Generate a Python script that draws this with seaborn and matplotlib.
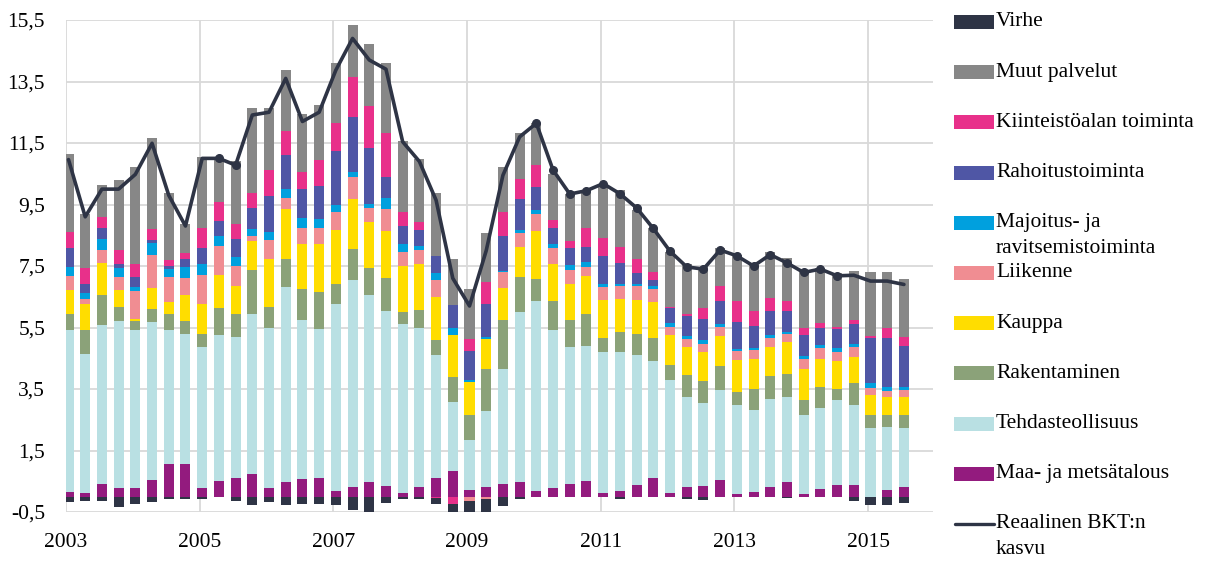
import numpy as np
import seaborn as sns
import matplotlib.pyplot as plt
from matplotlib.patches import Rectangle
from matplotlib.lines import Line2D
from matplotlib.ticker import FuncFormatter

# quarterly contributions, 2003Q1 - 2015Q3
maa = [0.15, 0.13, 0.42, 0.28, 0.28, 0.53, 1.07, 1.07, 0.28, 0.51, 0.62, 0.75, 0.28,
       0.48, 0.56, 0.61, 0.17, 0.31, 0.48, 0.35, 0.13, 0.31, 0.61, 0.82, 0.20, 0.31,
       0.42, 0.48, 0.17, 0.28, 0.42, 0.51, 0.13, 0.17, 0.37, 0.59, 0.13, 0.31, 0.35,
       0.53, 0.10, 0.15, 0.31, 0.46, 0.10, 0.24, 0.37, 0.37, 0.00, 0.21, 0.31]
tehdas = [5.26, 4.52, 5.15, 5.44, 5.13, 5.15, 4.34, 4.21, 4.57, 4.74, 4.58, 5.18, 5.19,
          6.34, 5.18, 4.83, 6.11, 6.73, 6.07, 5.68, 5.47, 5.19, 4.01, 2.26, 1.63, 2.47,
          3.74, 5.53, 6.20, 5.13, 4.43, 4.39, 4.56, 4.52, 4.23, 3.81, 3.66, 2.93, 2.71,
          2.93, 2.87, 2.66, 2.88, 2.78, 2.57, 2.65, 2.76, 2.60, 2.23, 2.06, 1.92]
rakentaminen = [0.52, 0.76, 0.98, 0.45, 0.29, 0.42, 0.52, 0.42, 0.43, 0.89, 0.73, 1.43,
                0.70, 0.92, 1.01, 1.22, 0.65, 1.01, 0.87, 1.08, 0.41, 0.56, 0.47, 0.81,
                0.84, 1.38, 1.58, 1.14, 0.72, 0.95, 0.89, 1.05, 0.48, 0.67, 0.70, 0.76,
                0.48, 0.71, 0.69, 0.79, 0.44, 0.68, 0.74, 0.76, 0.46, 0.68, 0.36, 0.71,
                0.42, 0.40, 0.44]
kauppa = [0.78, 0.87, 1.06, 0.54, 0.09, 0.67, 0.40, 0.85, 1.00, 1.06, 0.92, 0.95, 1.57,
          1.61, 1.47, 1.57, 1.74, 1.62, 1.50, 1.52, 1.49, 1.52, 1.41, 1.36, 1.06, 0.96,
          1.03, 0.97, 1.54, 1.22, 1.19, 1.23, 1.22, 1.08, 1.09, 1.17, 1.00, 0.92, 0.96,
          0.98, 1.03, 1.00, 0.94, 1.03, 1.03, 0.92, 0.91, 0.86, 0.65, 0.57, 0.57]
liikenne = [0.47, 0.14, 0.41, 0.44, 0.89, 1.10, 0.82, 0.56, 0.92, 0.96, 0.65, 0.17, 0.60,
            0.37, 0.50, 0.49, 0.59, 0.73, 0.47, 0.72, 0.46, 0.44, 0.54, 0.00, -0.15, -0.07,
            0.52, 0.44, 0.56, 0.51, 0.43, 0.29, 0.43, 0.41, 0.46, 0.42, 0.25, 0.27, 0.24,
            0.29, 0.29, 0.27, 0.29, 0.27, 0.33, 0.35, 0.31, 0.33, 0.24, 0.19, 0.22]
majoitus = [0.29, 0.19, 0.37, 0.27, 0.14, 0.39, 0.25, 0.36, 0.38, 0.32, 0.28, 0.22, 0.27,
            0.28, 0.33, 0.30, 0.22, 0.16, 0.11, 0.35, 0.25, 0.14, 0.22, 0.22, 0.05, 0.08,
            0.04, 0.11, 0.13, 0.14, 0.17, 0.17, 0.11, 0.08, 0.08, 0.10, 0.14, 0.09, 0.14,
            0.11, 0.06, 0.08, 0.09, 0.06, 0.09, 0.08, 0.11, 0.08, 0.14, 0.14, 0.11]
rahoitus = [0.62, 0.32, 0.33, 0.16, 0.33, 0.08, 0.10, 0.27, 0.49, 0.48, 0.59, 0.67, 1.17,
            1.11, 0.95, 1.09, 1.76, 1.79, 1.84, 0.70, 0.60, 0.51, 0.57, 0.76, 0.95, 1.08,
            1.15, 1.00, 0.76, 0.51, 0.54, 0.48, 0.90, 0.68, 0.33, 0.19, 0.48, 0.64, 0.68,
            0.73, 0.89, 0.71, 0.78, 0.67, 0.69, 0.57, 0.62, 0.68, 1.48, 1.59, 1.33]
kiinteisto = [0.52, 0.51, 0.38, 0.44, 0.40, 0.36, 0.19, 0.19, 0.65, 0.63, 0.51, 0.52, 0.84,
              0.78, 0.56, 0.83, 0.90, 1.31, 1.37, 1.41, 0.45, 0.27, -0.06, -0.23, 0.41, 0.70,
              0.78, 0.66, 0.70, 0.25, 0.24, 0.60, 0.59, 0.51, 0.48, 0.27, 0.03, 0.08, 0.35,
              0.49, 0.68, 0.48, 0.43, 0.33, 0.20, 0.17, 0.08, 0.11, 0.07, 0.31, 0.30]
muut = [2.52, 1.75, 1.03, 2.29, 3.18, 2.95, 2.17, 0.92, 2.33, 1.43, 2.04, 2.76, 2.03,
        1.98, 1.87, 1.79, 1.95, 1.68, 2.01, 2.28, 2.30, 2.04, 2.03, 1.51, 1.61, 1.58,
        1.47, 1.48, 1.36, 1.49, 1.52, 1.25, 1.71, 1.85, 1.58, 1.41, 1.79, 1.63, 1.35,
        1.22, 1.51, 1.50, 1.48, 1.41, 1.84, 1.76, 1.74, 1.59, 2.06, 1.82, 1.89]
virhe = [-0.17, -0.15, -0.15, -0.34, -0.25, -0.17, -0.09, -0.09, -0.09, -0.02, -0.14, -0.28,
         -0.17, -0.28, -0.23, -0.23, -0.28, -0.44, -0.50, -0.20, -0.09, -0.09, -0.18, -0.32,
         -0.40, -0.45, -0.30, -0.09, 0.00, 0.00, 0.00, 0.00, 0.00, -0.09, 0.00, 0.00, 0.00,
         -0.09, -0.12, 0.00, 0.00, 0.00, 0.00, -0.05, 0.00, 0.00, 0.00, -0.15, -0.28, -0.28,
         -0.20]
bkt = [10.96, 9.1, 10.0, 10.0, 10.48, 11.49, 9.8, 8.8, 11.0, 11.0, 10.78, 12.41, 12.5,
       13.6, 12.2, 12.5, 13.87, 14.9, 14.2, 13.9, 11.54, 10.9, 9.64, 7.1, 6.2, 8.0, 10.45,
       11.7, 12.14, 10.62, 9.84, 9.95, 10.18, 9.85, 9.39, 8.72, 7.98, 7.47, 7.4, 8.02, 7.83,
       7.5, 7.87, 7.6, 7.29, 7.4, 7.18, 7.2, 7.01, 7.01, 6.9]
year_labels = ["2003", "2005", "2007", "2009", "2011", "2013", "2015"]
marker_idx = [9, 10] + list(range(28, 47))

series = [
    ("Maa- ja metsätalous", maa, "#931B7E"),
    ("Tehdasteollisuus", tehdas, "#B9E0E3"),
    ("Rakentaminen", rakentaminen, "#8BA279"),
    ("Kauppa", kauppa, "#FFDD00"),
    ("Liikenne", liikenne, "#F08D92"),
    ("Majoitus- ja\nravitsemistoiminta", majoitus, "#00A0DE"),
    ("Rahoitustoiminta", rahoitus, "#4F56A5"),
    ("Kiinteistöalan toiminta", kiinteisto, "#E8308A"),
    ("Muut palvelut", muut, "#878787"),
    ("Virhe", virhe, "#2E3445"),
]
line_color = "#2E3445"

sns.set_theme(style="whitegrid")
plt.rcParams["font.family"] = ["Liberation Serif", "DejaVu Serif"]
FS = 15.5

W, H = 1206, 561
fig = plt.figure(figsize=(W / 100, H / 100), dpi=100)
ax = fig.add_axes([66 / W, 1 - 512 / H, (933 - 66) / W, (512 - 20) / H])

x = np.arange(len(bkt))
pos = np.zeros(len(x))
neg = np.zeros(len(x))
for name, vals, color in series:
    v = np.array(vals)
    bottom = np.where(v >= 0, pos, neg)
    ax.bar(x, v, bottom=bottom, width=0.6, color=color, linewidth=0, zorder=2)
    pos = pos + np.clip(v, 0, None)
    neg = neg + np.clip(v, None, 0)

sns.lineplot(x=x, y=bkt, ax=ax, color=line_color, linewidth=2.6, zorder=3)
ax.plot(x[marker_idx], np.array(bkt)[marker_idx], "o", color=line_color,
        markersize=5.5, zorder=3)

ax.set_xlim(-0.15, 51.74)
ax.set_ylim(-0.5, 15.5)
ax.set_yticks(np.arange(-0.5, 15.6, 2))
ax.yaxis.set_major_formatter(FuncFormatter(lambda v, p: f"{v:.1f}".replace(".", ",")))
ax.set_xticks(np.arange(0, len(x), 8) - 0.15)
ax.set_xticklabels(year_labels)
ax.grid(True, color="#D9D9D9", linewidth=1.3)
ax.set_axisbelow(True)
for s in ax.spines.values():
    s.set_visible(False)
ax.tick_params(axis="both", length=0, labelsize=FS, colors="black")
ax.tick_params(axis="y", pad=15)
ax.tick_params(axis="x", pad=15)

# legend drawn at the right, top entry first
legend_rows = [(n, c) for n, _, c in series[::-1]]
for i, (name, color) in enumerate(legend_rows + [("Reaalinen BKT:n\nkasvu", None)]):
    yc = 22 + 50.2 * i
    if color is not None:
        fig.add_artist(Rectangle((954 / W, 1 - (yc + 7) / H), 40 / W, 14 / H,
                                 transform=fig.transFigure, color=color, lw=0))
    else:
        fig.add_artist(Line2D([955 / W, 994 / W], [1 - yc / H, 1 - yc / H],
                              transform=fig.transFigure, color=line_color, lw=2.4))
    lines = name.split("\n")
    for j, t in enumerate(lines):
        fig.text(996 / W, 1 - (yc + 26 * j) / H, t, fontsize=FS, va="center",
                 ha="left", color="black")

fig.savefig("out.png", dpi=100)
